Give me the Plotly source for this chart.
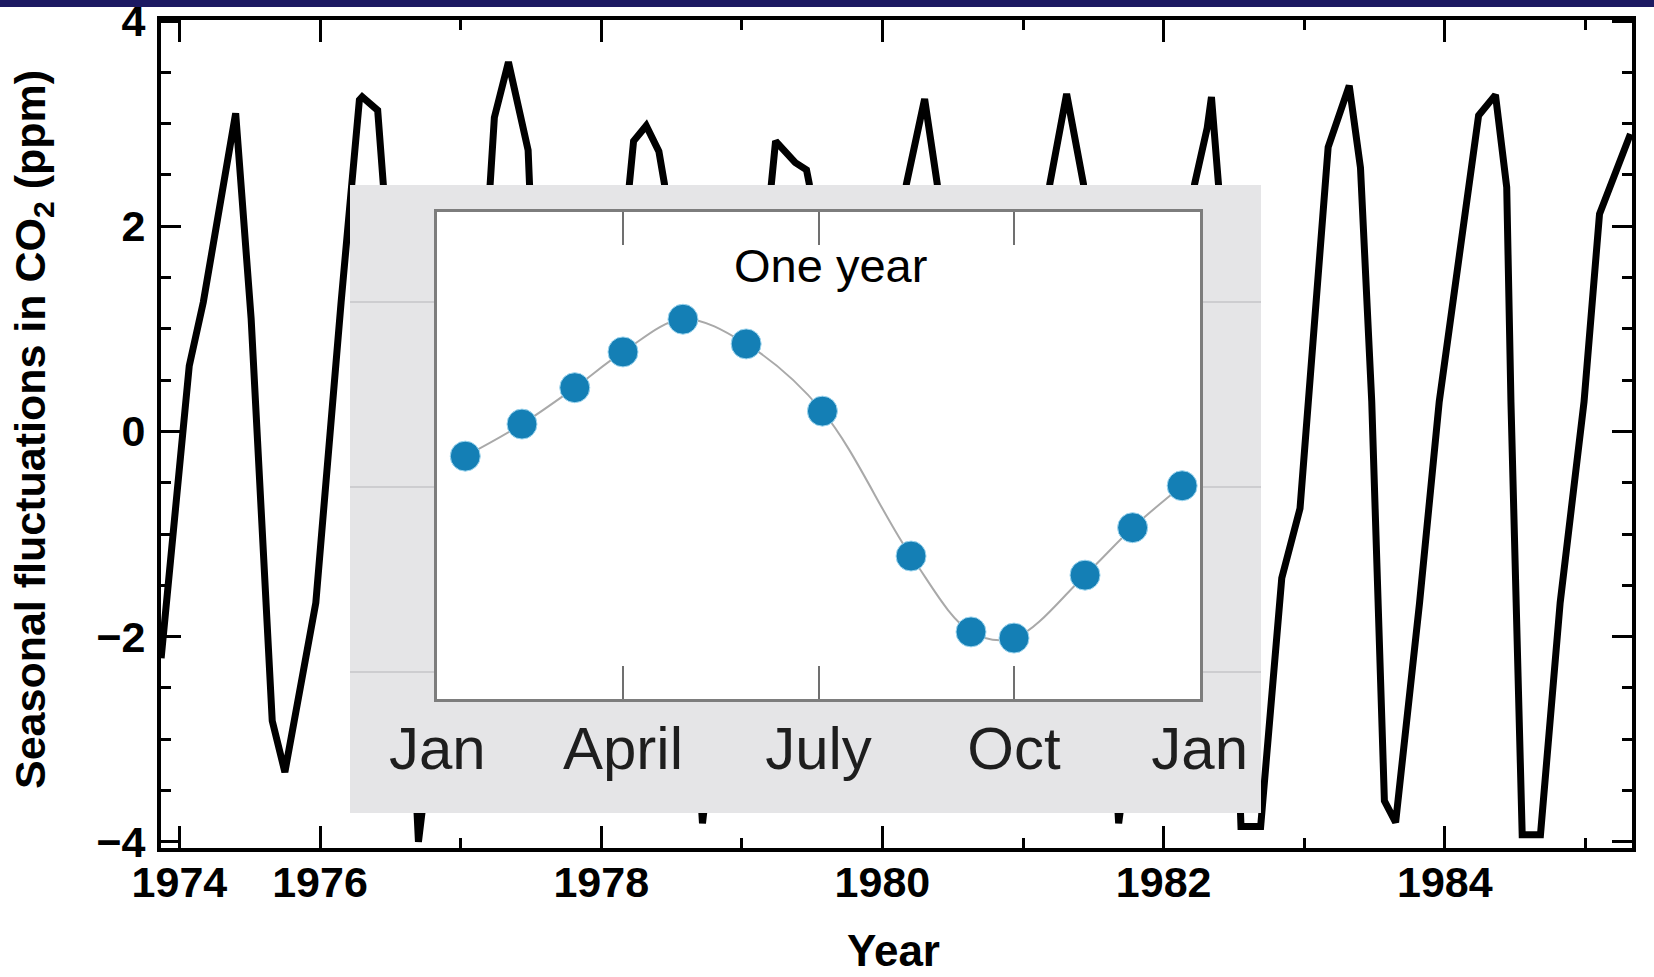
import plotly.graph_objects as go

# ---------------- data: main seasonal CO2 series ----------------
years = [1974.87, 1975.07, 1975.17, 1975.40, 1975.51, 1975.66, 1975.75, 1975.97,
         1976.15, 1976.23, 1976.28, 1976.30, 1976.41, 1976.45, 1976.56, 1976.70,
         1977.00, 1977.21, 1977.24, 1977.34, 1977.48, 1977.49, 1977.75,
         1978.00, 1978.20, 1978.23, 1978.32, 1978.41, 1978.45, 1978.72,
         1979.00, 1979.21, 1979.24, 1979.38, 1979.46, 1979.48, 1979.72,
         1980.00, 1980.17, 1980.30, 1980.39, 1980.72,
         1981.00, 1981.19, 1981.31, 1981.43, 1981.68,
         1982.00, 1982.22, 1982.31, 1982.34, 1982.39, 1982.55, 1982.69, 1982.84, 1982.97,
         1983.17, 1983.32, 1983.40, 1983.48, 1983.57, 1983.65, 1983.82, 1983.96,
         1984.24, 1984.36, 1984.44, 1984.47, 1984.55, 1984.68, 1984.82, 1984.99,
         1985.10, 1985.32]
co2_fluct = [-2.21, 0.64, 1.26, 3.10, 1.10, -2.82, -3.32, -1.67,
             1.26, 2.41, 3.23, 3.26, 3.13, 2.41, 0.00, -4.00,
             -0.60, 2.41, 3.06, 3.60, 2.74, 2.41, -3.50,
             -0.40, 2.41, 2.83, 2.98, 2.73, 2.41, -3.82,
             -0.50, 2.41, 2.83, 2.62, 2.55, 2.41, -3.50,
             -0.30, 2.41, 3.24, 2.41, -3.55,
             -0.50, 2.41, 3.29, 2.41, -3.82,
             -0.50, 2.41, 2.96, 3.26, 2.41, -3.85, -3.85, -1.43, -0.75,
             2.77, 3.37, 2.57, 0.29, -3.60, -3.81, -1.67, 0.29,
             3.08, 3.28, 2.38, 0.29, -3.93, -3.93, -1.67, 0.29,
             2.12, 2.90]

main_tickvals = [1975, 1976, 1978, 1980, 1982, 1984]
main_ticktext = ["1974", "1976", "1978", "1980", "1982", "1984"]
y_tickvals = [-4, -2, 0, 2, 4]

# ---------------- data: inset (one year) ----------------
inset_month = [0.58, 1.45, 2.26, 3.00, 3.92, 4.89, 6.06, 7.42, 8.34, 9.00, 10.09, 10.82, 11.58]
inset_ppm = [0.50, 1.02, 1.61, 2.19, 2.72, 2.32, 1.23, -1.12, -2.35, -2.45, -1.43, -0.66, 0.02]
inset_tickvals = [0.15, 3, 6, 9, 11.85]
inset_ticktext = ["Jan", "April", "July", "Oct", "Jan"]
inset_grid = [-3, 0, 3]

W, H = 1654, 977


def px_x(p):
    return p / W


def px_y(p):
    return 1 - p / H


FONT = "Liberation Sans, Arial, Helvetica, sans-serif"

fig = go.Figure()

# main series
fig.add_trace(go.Scatter(x=years, y=co2_fluct, mode="lines",
                         line=dict(color="black", width=7),
                         showlegend=False, hoverinfo="skip",
                         xaxis="x", yaxis="y"))

# placeholder trace to create inset panel subplot
fig.add_trace(go.Scatter(x=[None], y=[None], mode="lines", showlegend=False,
                         hoverinfo="skip", xaxis="x2", yaxis="y2"))

# inset data
fig.add_trace(go.Scatter(x=inset_month, y=inset_ppm, mode="lines+markers",
                         line=dict(color="#a9a9a9", width=2, shape="spline", smoothing=1),
                         marker=dict(color="#147fb5", size=30,
                                     line=dict(color="#9fd6ef", width=1)),
                         showlegend=False, hoverinfo="skip",
                         xaxis="x3", yaxis="y3"))

y2_range = [(487 - 813) / 61.67, (487 - 185) / 61.67]

fig.update_layout(
    width=W, height=H, autosize=False,
    margin=dict(l=0, r=0, t=0, b=0, pad=0),
    paper_bgcolor="white", plot_bgcolor="white",
    font=dict(family=FONT, color="black"),
    xaxis=dict(
        domain=[px_x(161), px_x(1632)], range=[1974.869, 1985.331],
        anchor="y", automargin=False,
        showline=True, linecolor="black", linewidth=4, mirror="ticks",
        ticks="inside", ticklen=22, tickwidth=3, tickcolor="black",
        tickmode="array", tickvals=main_tickvals, ticktext=main_ticktext,
        tickfont=dict(size=43, family=FONT, weight="bold", color="black"),
        ticklabelstandoff=-7, ticklabeloverflow="allow",
        showgrid=False, zeroline=False,
        minor=dict(ticks="inside", ticklen=10, tickwidth=3, tickcolor="black",
                   dtick=1, tick0=1975, showgrid=False),
    ),
    yaxis=dict(
        domain=[px_y(848), px_y(20)], range=[-4.06, 4.01],
        anchor="x", automargin=False,
        showline=True, linecolor="black", linewidth=4, mirror="ticks",
        ticks="inside", ticklen=20, tickwidth=3, tickcolor="black",
        tickmode="array", tickvals=y_tickvals,
        tickfont=dict(size=43, family=FONT, weight="bold", color="black"),
        ticklabelstandoff=3, ticklabeloverflow="allow",
        showgrid=False, zeroline=False,
        minor=dict(ticks="inside", ticklen=10, tickwidth=3, tickcolor="black",
                   dtick=0.5, tick0=0, showgrid=False),
    ),
    xaxis2=dict(
        domain=[px_x(350), px_x(1261)], range=[0, 1], anchor="y2",
        automargin=False, visible=False, fixedrange=True,
    ),
    yaxis2=dict(
        domain=[px_y(813), px_y(185)], range=y2_range, anchor="x2",
        automargin=False, showline=False, ticks="", showticklabels=False,
        tickmode="array", tickvals=inset_grid,
        showgrid=True, gridcolor="#cdcdd0", gridwidth=2, zeroline=False,
    ),
    xaxis3=dict(
        domain=[px_x(437), px_x(1200)], range=[0.146, 11.854], anchor="y3",
        automargin=False,
        showline=True, linecolor="#7d7d7d", linewidth=3, mirror="ticks",
        ticks="inside", ticklen=33, tickwidth=2, tickcolor="#707070",
        tickmode="array", tickvals=inset_tickvals, ticktext=inset_ticktext,
        tickfont=dict(size=60, family=FONT, color="#1e1e1e"),
        ticklabelstandoff=-5, ticklabeloverflow="allow",
        showgrid=False, zeroline=False,
    ),
    yaxis3=dict(
        domain=[px_y(699), px_y(212)], range=[-3.438, 4.459], anchor="x3",
        automargin=False,
        showline=True, linecolor="#7d7d7d", linewidth=3, mirror=True,
        ticks="", showticklabels=False, showgrid=False, zeroline=False,
    ),
    shapes=[
        dict(type="rect", xref="x2", yref="y2", x0=0, x1=1,
             y0=y2_range[0], y1=y2_range[1],
             fillcolor="#e5e5e7", line=dict(width=0), layer="below"),
        dict(type="rect", xref="paper", yref="paper", x0=0, x1=1,
             y0=px_y(7), y1=1, fillcolor="#1c1a62", line=dict(width=0),
             layer="above"),
    ],
    annotations=[
        dict(text="One year", xref="paper", yref="paper",
             x=px_x(830), y=px_y(265), xanchor="center", yanchor="middle",
             showarrow=False, font=dict(size=47, family=FONT, color="black")),
        dict(text="Seasonal fluctuations in CO<sub>2</sub> (ppm)",
             xref="paper", yref="paper", x=px_x(33), y=px_y(430),
             xanchor="center", yanchor="middle", textangle=-90, showarrow=False,
             font=dict(size=43, family=FONT, weight="bold", color="black")),
        dict(text="Year", xref="paper", yref="paper",
             x=px_x(893), y=0, xanchor="center", yanchor="bottom",
             showarrow=False,
             font=dict(size=44, family=FONT, weight="bold", color="black")),
    ],
)

fig.write_html("out.html",
               config={"displayModeBar": False, "staticPlot": True},
               post_script="document.body.style.margin='0';"
                           "document.body.style.overflow='hidden';")
